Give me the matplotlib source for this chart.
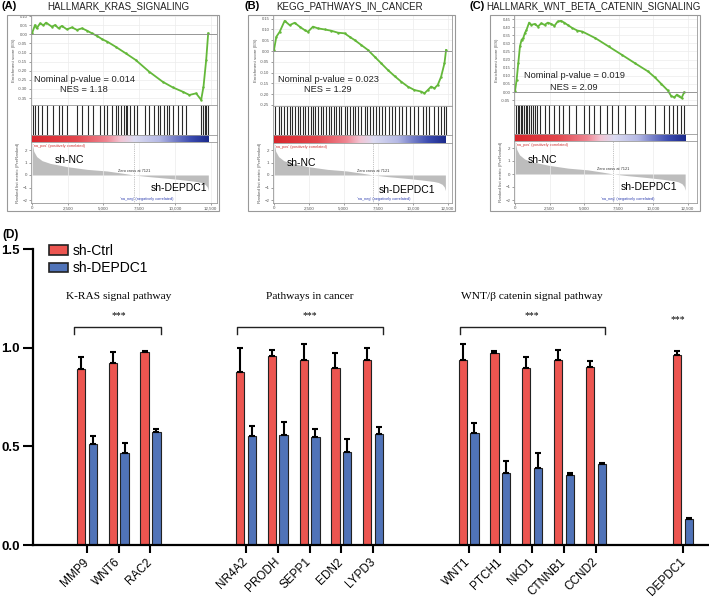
import numpy as np
import matplotlib
matplotlib.use('Agg')
import matplotlib.pyplot as plt
from matplotlib.patches import Rectangle, Patch
from matplotlib.colors import LinearSegmentedColormap

W, H = 709, 598
plt.rcParams['font.family'] = ['Liberation Sans', 'DejaVu Sans']

# ------------------------------------------------------------------ data
# GSEA running enrichment score curves (gene rank, ES)
kras_es_x = [0, 211, 329, 563, 798, 986, 1385, 1619, 1854, 2089, 2441, 2793, 3145, 3497,
             3849, 4201, 4553, 4905, 5257, 5844, 6548, 7252, 8191, 9130, 9834, 10538,
             11007, 11477, 11829, 11993, 12181, 12320]
kras_es_y = [0.005, 0.051, 0.033, 0.06, 0.05, 0.064, 0.042, 0.051, 0.033, 0.046, 0.027,
             0.038, 0.024, 0.033, 0.02, 0.005, -0.009, -0.027, -0.04, -0.068, -0.104,
             -0.141, -0.205, -0.26, -0.291, -0.315, -0.333, -0.324, -0.36, -0.287,
             -0.141, 0.005]

cancer_es_x = [0, 168, 407, 766, 1126, 1485, 1844, 2203, 2443, 2802, 3161, 3640, 4119, 4598,
               5077, 5437, 5796, 6275, 6754, 7233, 7712, 8191, 8670, 9149, 9628, 10107,
               10586, 10825, 11065, 11304, 11544, 11783, 12023, 12263, 12380]
cancer_es_y = [0.005, 0.066, 0.089, 0.14, 0.12, 0.131, 0.113, 0.097, 0.089, 0.113, 0.105,
               0.1, 0.094, 0.085, 0.082, 0.066, 0.051, 0.028, 0.005, -0.026, -0.057, -0.088,
               -0.116, -0.142, -0.165, -0.181, -0.188, -0.196, -0.181, -0.165, -0.173,
               -0.157, -0.119, -0.057, 0.005]

wnt_es_x = [0, 119, 238, 357, 476, 595, 714, 833, 1023, 1190, 1428, 1666, 1904, 2142, 2380,
            2618, 2856, 3094, 3332, 3570, 3808, 4165, 4522, 4879, 5831, 6783, 7735, 8687,
            9639, 10115, 10591, 11067, 11305, 11543, 11733, 11900, 12067, 12257]
wnt_es_y = [0.004, 0.076, 0.178, 0.281, 0.322, 0.332, 0.363, 0.383, 0.428, 0.414, 0.42,
            0.404, 0.424, 0.414, 0.428, 0.42, 0.408, 0.435, 0.439, 0.428, 0.414, 0.394,
            0.379, 0.373, 0.332, 0.281, 0.23, 0.178, 0.127, 0.092, 0.051, 0.01, -0.023,
            -0.033, -0.016, -0.027, -0.037, -0.002]

# gene-set hit positions (gene rank)
kras_hits = [94, 211, 446, 681, 1033, 1502, 1854, 2089, 2441, 3145, 3497, 3896, 4272, 4788,
             5023, 5210, 5562, 5844, 6008, 6196, 6431, 6548, 6665, 6853, 7135, 7370, 7909,
             8191, 8543, 8778, 8966, 9200, 9435, 9599, 9834, 10186, 10491, 10773, 11829,
             11946, 12064, 12181, 12298]
cancer_hits = [96, 335, 527, 719, 958, 1126, 1293, 1485, 1724, 1892, 2084, 2251, 2443, 2635,
               2826, 2970, 3161, 3353, 3545, 3736, 3928, 4119, 4311, 4479, 4646, 4838, 5077,
               5269, 5461, 5676, 5844, 6035, 6275, 6514, 6706, 6898, 7113, 7353, 7544, 7760,
               7999, 8239, 8478, 8670, 8957, 9221, 9508, 9820, 10107, 10394, 10706, 10945,
               11185, 11496, 11783, 12023, 12215, 12382]
wnt_hits = [71, 190, 309, 405, 524, 643, 762, 881, 1000, 1142, 1309, 1452, 1618, 1785, 2142,
            2499, 2856, 3213, 3451, 3927, 4403, 4998, 5355, 5712, 6188, 6664, 7021, 7497,
            7973, 8687, 9401, 10115, 10829, 11186, 11424, 11733, 12019, 12257]

# ranked list metric
rank_x = [0, 120, 330, 700, 1270, 2440, 3850, 5260, 6300, 7121, 8190, 9550, 10650, 11500,
          11830, 12100, 12250, 12330]
rank_y = [2.6, 1.9, 1.47, 1.15, 0.93, 0.67, 0.45, 0.32, 0.15, 0.0, -0.13, -0.27, -0.4,
          -0.52, -0.6, -0.75, -0.95, -1.25]
n_genes = 12330
zero_cross = 7121

gsea_titles = ['HALLMARK_KRAS_SIGNALING', 'KEGG_PATHWAYS_IN_CANCER',
               'HALLMARK_WNT_BETA_CATENIN_SIGNALING']
gsea_pvals = ['0.014', '0.023', '0.019']
gsea_nes = ['1.18', '1.29', '2.09']

# qPCR bar chart
genes = ['MMP9', 'WNT6', 'RAC2', 'NR4A2', 'PRODH', 'SEPP1', 'EDN2', 'LYPD3',
         'WNT1', 'PTCH1', 'NKD1', 'CTNNB1', 'CCND2', 'DEPDC1']
group_sizes = [3, 5, 5, 1]
group_names = ['K-RAS signal pathway', 'Pathways in cancer', 'WNT/\u03b2 catenin signal pathway', '']
ctrl_mean = [0.89, 0.92, 0.978, 0.878, 0.96, 0.938, 0.897, 0.939, 0.939, 0.971, 0.897,
             0.936, 0.904, 0.961]
ctrl_err = [0.063, 0.056, 0.003, 0.12, 0.028, 0.079, 0.074, 0.058, 0.08, 0.012, 0.057,
            0.052, 0.03, 0.022]
kd_mean = [0.512, 0.466, 0.571, 0.554, 0.559, 0.547, 0.473, 0.561, 0.566, 0.363, 0.392,
           0.353, 0.41, 0.133]
kd_err = [0.042, 0.053, 0.017, 0.051, 0.066, 0.041, 0.063, 0.039, 0.054, 0.063, 0.076,
          0.01, 0.004, 0.005]
sig_labels = ['***', '***', '***', '***']

# ------------------------------------------------------------------ figure
fig = plt.figure(figsize=(W / 100, H / 100), dpi=100)


def add_ax(l, t, r, b):
    return fig.add_axes([l / W, 1 - b / H, (r - l) / W, (b - t) / H])


def ftext(x, y, s, **kw):
    fig.text(x / W, 1 - y / H, s, **kw)


cmap_bar = LinearSegmentedColormap.from_list('gsea', [
    (0.0, '#d8262c'), (0.25, '#e3474d'), (0.42, '#ee8591'), (0.5, '#f3c4d3'),
    (0.58, '#dcdcf2'), (0.72, '#b5b9e5'), (0.8, '#7b84cb'), (0.9, '#3b4bb0'),
    (1.0, '#1b2a8b')])

gray = '#999999'
panels = [
    dict(frame=(7, 15, 219, 211), x0=32, slope=0.0143, xl=31, xr=217,
         es=(15, 105), hits=(105, 135), cb=(135, 142), rk=(142, 203),
         es_lim=(-0.388, 0.106), es_ticks=[0.10, 0.05, 0.0, -0.05, -0.10, -0.15, -0.20, -0.25, -0.30, -0.35],
         letter_x=2, title_x=118, txt=(84, 80, 90), nc=(69, 160), dep=(179, 188),
         esx=kras_es_x, esy=kras_es_y, hitl=kras_hits, zero_px=175, unit_px=12.5),
    dict(frame=(248, 15, 455, 211), x0=274, slope=0.0139, xl=273, xr=452,
         es=(15, 106), hits=(106, 135), cb=(135, 143), rk=(143, 203),
         es_lim=(-0.255, 0.167), es_ticks=[0.15, 0.10, 0.05, 0.0, -0.05, -0.10, -0.15, -0.20, -0.25],
         letter_x=244, title_x=350, txt=(328, 80, 90), nc=(301, 163), dep=(407, 190),
         esx=cancer_es_x, esy=cancer_es_y, hitl=cancer_hits, zero_px=175, unit_px=12.5),
    dict(frame=(490, 15, 700, 211), x0=515, slope=0.0138, xl=514, xr=697,
         es=(15, 105), hits=(105, 134), cb=(134, 141), rk=(141, 203),
         es_lim=(-0.08, 0.475), es_ticks=[0.45, 0.40, 0.35, 0.30, 0.25, 0.20, 0.15, 0.10, 0.05, 0.0, -0.05],
         letter_x=470, title_x=593, txt=(574, 76, 87), nc=(542, 160), dep=(649, 187),
         esx=wnt_es_x, esy=wnt_es_y, hitl=wnt_hits, zero_px=174, unit_px=13),
]
letters = ['(A)', '(B)', '(C)']
xt = [0, 2500, 5000, 7500, 10000, 12500]
xtl = ['0', '2,500', '5,000', '7,500', '10,000', '12,500']

for i, p in enumerate(panels):
    fl, ft, fr, fb = p['frame']
    fig.patches.append(Rectangle((fl / W, 1 - fb / H), (fr - fl) / W, (fb - ft) / H,
                                 transform=fig.transFigure, fill=False, ec=gray, lw=0.8))
    xlim = ((p['xl'] - p['x0']) / p['slope'], (p['xr'] - p['x0']) / p['slope'])
    # ES axes
    ax = add_ax(p['xl'], p['es'][0], p['xr'], p['es'][1])
    ax.plot(p['esx'], p['esy'], color='#64b83a', lw=1.3, marker='.', ms=1.5)
    ax.axhline(0, color='#888888', lw=0.6)
    ax.set_xlim(*xlim)
    ax.set_ylim(*p['es_lim'])
    ax.set_yticks(p['es_ticks'])
    ax.set_yticklabels(['%.2f' % v for v in p['es_ticks']])
    ax.set_xticks(xt)
    ax.tick_params(axis='x', length=0, labelbottom=False)
    ax.tick_params(axis='y', length=1.5, width=0.4, labelsize=3, colors='#555555', pad=1)
    ax.grid(True, color='#ececec', lw=0.5)
    ax.set_axisbelow(True)
    for s in ax.spines.values():
        s.set_color(gray)
        s.set_linewidth(0.6)
    ax.set_ylabel('Enrichment score (ES)', fontsize=3.2, color='#555555', labelpad=1.5)
    ftext(p['txt'][0], p['txt'][1], 'Nominal p-value = ' + gsea_pvals[i], fontsize=6.7,
          ha='center', va='center', color='#222222')
    ftext(p['txt'][0], p['txt'][2], 'NES = ' + gsea_nes[i], fontsize=6.7,
          ha='center', va='center', color='#222222')
    # hits
    axh = add_ax(p['xl'], p['hits'][0], p['xr'], p['hits'][1])
    axh.vlines(p['hitl'], 0, 1, color='#2a2a2a', lw=0.8)
    axh.set_xlim(*xlim)
    axh.set_ylim(0, 1)
    axh.set_xticks([])
    axh.set_yticks([])
    for s in axh.spines.values():
        s.set_color(gray)
        s.set_linewidth(0.6)
    # colour bar
    axc = add_ax(p['xl'], p['cb'][0], p['xr'], p['cb'][1])
    axc.imshow(np.linspace(0, 1, 512)[None, :], aspect='auto', cmap=cmap_bar,
               extent=[0, n_genes, 0, 1])
    axc.set_xlim(*xlim)
    axc.set_ylim(0, 1)
    axc.set_xticks([])
    axc.set_yticks([])
    for s in axc.spines.values():
        s.set_color(gray)
        s.set_linewidth(0.6)
    # ranked list
    axr = add_ax(p['xl'], p['rk'][0], p['xr'], p['rk'][1])
    axr.fill_between(rank_x, rank_y, 0, color='#bdbdbd', lw=0)
    top = (p['zero_px'] - p['rk'][0]) / p['unit_px']
    bot = (p['zero_px'] - p['rk'][1]) / p['unit_px']
    axr.set_ylim(bot, top)
    axr.set_xlim(*xlim)
    axr.axvline(zero_cross, color='#888888', lw=0.5, ls=':')
    axr.set_yticks([2, 1, 0, -1, -2])
    axr.set_xticks(xt)
    axr.set_xticklabels(xtl)
    axr.tick_params(length=1.5, width=0.4, labelsize=3.2, colors='#555555', pad=1)
    axr.grid(True, axis='x', color='#ececec', lw=0.5)
    for s in axr.spines.values():
        s.set_color(gray)
        s.set_linewidth(0.6)
    axr.set_ylabel('Ranked list metric (PreRanked)', fontsize=3.2, color='#555555', labelpad=2)
    axr.text(0.01, 0.93, "'na_pos' (positively correlated)", transform=axr.transAxes,
             fontsize=2.8, color='#d03030', va='center')
    axr.text(zero_cross, 0.35, 'Zero cross at %d' % zero_cross, fontsize=2.8,
             color='#333333', ha='center', va='center')
    axr.text(0.62, 0.07, "'na_neg' (negatively correlated)", transform=axr.transAxes,
             fontsize=2.8, color='#3040b0', ha='center', va='center')
    ftext(p['nc'][0], p['nc'][1], 'sh-NC', fontsize=7.5, ha='center', va='center')
    ftext(p['dep'][0], p['dep'][1], 'sh-DEPDC1', fontsize=7.5, ha='center', va='center')
    # title
    ftext(p['letter_x'], 6, letters[i], fontsize=8, fontweight='bold', ha='left', va='center')
    ftext(p['title_x'], 6, gsea_titles[i], fontsize=7, ha='center', va='center',
          color='#222222')

# ------------------------------------------------------------------ bar chart
gaps = [3, 3, 2.75]
pos = []
x = 0.0
for g, n in enumerate(group_sizes):
    for k in range(n):
        pos.append(x)
        x += 1
    if g < len(gaps):
        x += gaps[g] - 1
pos = np.array(pos)

red = '#ec5550'
blue = '#5073b8'
off = 0.185
bw = 0.26
axb = add_ax(32.5, 249, 709, 545)
axb.bar(pos - off, ctrl_mean, width=bw, color=red, edgecolor='#222222', lw=0.8, zorder=2)
axb.bar(pos + off, kd_mean, width=bw, color=blue, edgecolor='#222222', lw=0.8, zorder=2)
zeros = [0] * len(genes)
axb.errorbar(pos - off, ctrl_mean, yerr=[zeros, ctrl_err], fmt='none', ecolor='black',
             elinewidth=1.5, capsize=2.2, capthick=1.5, zorder=3)
axb.errorbar(pos + off, kd_mean, yerr=[zeros, kd_err], fmt='none', ecolor='black',
             elinewidth=1.5, capsize=2.2, capthick=1.5, zorder=3)
axb.set_xlim(-1.71, 19.56)
axb.set_ylim(0, 1.5)
axb.set_yticks([0, 0.5, 1.0, 1.5])
axb.set_yticklabels(['0.0', '0.5', '1.0', '1.5'], fontweight='bold', fontsize=9.5)
axb.set_xticks(pos)
axb.set_xticklabels(genes, rotation=45, ha='right', va='center', rotation_mode='anchor',
                    fontsize=8.5)
axb.tick_params(axis='y', length=7, width=1.5, pad=2)
axb.tick_params(axis='x', length=6, width=1.5, pad=5)
for s in ['top', 'right']:
    axb.spines[s].set_visible(False)
for s in ['left', 'bottom']:
    axb.spines[s].set_linewidth(1.6)

# brackets / significance
pads = [(0.42, 0.34), (0.29, 0.3), (0.28, 0.28)]
start = 0
for g, n in enumerate(group_sizes):
    xs = pos[start:start + n]
    if n > 1:
        x1, x2 = xs[0] - pads[g][0], xs[-1] + pads[g][1]
        axb.plot([x1, x1, x2, x2], [1.069, 1.106, 1.106, 1.069], color='#222222', lw=1.0)
        xm = (xs[0] + xs[-1]) / 2
        axb.text(xm, 1.16, sig_labels[g], ha='center', va='center', fontsize=7,
                 family='Liberation Serif')
        axb.text(xm, 1.26, group_names[g], ha='center', va='center', fontsize=8.2,
                 family='Liberation Serif')
    else:
        axb.text(xs[0] - off, 1.14, sig_labels[g], ha='center', va='center', fontsize=7,
                 family='Liberation Serif')
    start += n

handles = [Patch(facecolor=red, edgecolor='#222222', lw=1.2, label='sh-Ctrl'),
           Patch(facecolor=blue, edgecolor='#222222', lw=1.2, label='sh-DEPDC1')]
fig.legend(handles=handles, loc='upper left', bbox_to_anchor=(49 / W, 1 - 244 / H),
           frameon=False, fontsize=10, handlelength=1.35, handleheight=0.7,
           handletextpad=0.35, labelspacing=0.25, borderpad=0, borderaxespad=0)

ftext(2, 235, '(D)', fontsize=8.5, fontweight='bold', ha='left', va='center')

fig.savefig('out.png', dpi=100)
